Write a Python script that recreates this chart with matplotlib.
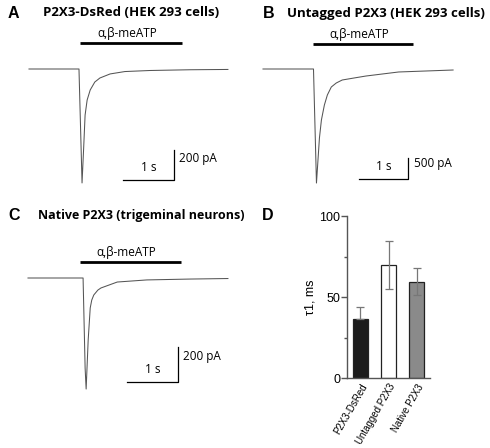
import matplotlib
matplotlib.use("Agg")
import matplotlib.pyplot as plt

# ---------------- data ----------------
# Trace A: P2X3-DsRed (time s, current pA)
tA = [0.00, 0.98, 1.04, 1.07, 1.10, 1.14, 1.20, 1.29, 1.39, 1.59, 1.88, 2.37, 3.16, 3.90]
iA = [0, 0, -760, -540, -307, -207, -140, -87, -60, -33, -17, -10, -5, -3]
# Trace B: untagged P2X3
tB = [0.00, 1.02, 1.08, 1.14, 1.18, 1.24, 1.30, 1.38, 1.48, 1.60, 1.84, 2.08, 2.74, 3.84]
iB = [0, 0, -2714, -1643, -1214, -857, -619, -428, -333, -262, -214, -167, -71, -24]
# Trace C: native P2X3
tC = [0.00, 1.08, 1.12, 1.14, 1.18, 1.22, 1.25, 1.29, 1.37, 1.43, 1.59, 1.75, 2.33, 3.18, 3.92]
iC = [0, 0, -514, -634, -354, -171, -126, -97, -69, -57, -40, -23, -11, -6, -3]

stim_label = "α,β-meATP"
stim_A = (1.0, 3.0)
stim_B = (1.02, 3.04)
stim_C = (1.02, 3.0)

bar_labels = ["P2X3-DsRed", "Untagged P2X3", "Native P2X3"]
tau_means = [36.5, 70, 59.5]
tau_err_lo = [0, 15, 8.5]
tau_err_hi = [7.5, 14.5, 8.5]
bar_colors = ["#1c1c1c", "#ffffff", "#8a8a8a"]

W, H = 490, 448
fig = plt.figure(figsize=(W / 100, H / 100), dpi=100)

TFONT = "Open Sans"
LFONT = "Liberation Sans"
trace_color = "#555555"


def fx(x):
    return x / W


def fy(y):
    return 1 - y / H


def trace_panel(t, i, x_t0, pps, y_base, pa_pp, box, stim, stim_px, sb_t, sb_i, sb_amp, sb_text):
    x0, y0, x1, y1 = box
    ax = fig.add_axes([fx(x0), fy(y1), (x1 - x0) / W, (y1 - y0) / H])
    ax.set_xlim((x0 - x_t0) / pps, (x1 - x_t0) / pps)
    ax.set_ylim(-(y1 - y_base) * pa_pp, -(y0 - y_base) * pa_pp)
    ax.axis("off")
    ax.plot(t, i, color=trace_color, lw=0.75, solid_joinstyle="round")
    stim_level = -(stim_px - y_base) * pa_pp
    ax.plot(stim, [stim_level, stim_level], color="black", lw=2.0, solid_capstyle="butt")
    ax.annotate(stim_label, xy=((stim[0] + stim[1]) / 2, stim_level), xytext=(-3, 2.5),
                textcoords="offset points", ha="center", va="bottom",
                fontsize=8.5, family=TFONT)
    # scale bars
    ax.plot([sb_t - 1, sb_t, sb_t], [sb_i, sb_i, sb_i + sb_amp], color="black", lw=0.9)
    ax.annotate("1 s", xy=(sb_t - 0.5, sb_i), xytext=(0, 4.5), textcoords="offset points",
                ha="center", va="bottom", fontsize=8.5, family=TFONT)
    ax.annotate(sb_text, xy=(sb_t, sb_i + sb_amp * 0.72), xytext=(4, 0), textcoords="offset points",
                ha="left", va="center", fontsize=8.5, family=TFONT)
    return ax


# Panel A
trace_panel(tA, iA, 29, 51, 69, 6.67, (25, 25, 235, 195), stim_A, 43,
            2.84, -740, 200, "200 pA")
# Panel B
trace_panel(tB, iB, 263, 49.5, 69, 23.8, (258, 25, 468, 195), stim_B, 44,
            2.93, -2620, 500, "500 pA")
# Panel C
trace_panel(tC, iC, 28, 51, 278, 5.71, (24, 235, 234, 400), stim_C, 262,
            2.94, -594, 200, "200 pA")

# Titles
fig.text(fx(8), fy(13), "A", fontsize=11.5, fontweight="bold", family=LFONT, va="center")
fig.text(fx(43), fy(13), "P2X3-DsRed (HEK 293 cells)", fontsize=9.5, fontweight="bold",
         family=TFONT, va="center")
fig.text(fx(263), fy(13), "B", fontsize=11.5, fontweight="bold", family=LFONT, va="center")
fig.text(fx(287), fy(13), "Untagged P2X3 (HEK 293 cells)", fontsize=9.5, fontweight="bold",
         family=TFONT, va="center")
fig.text(fx(8), fy(215), "C", fontsize=11.5, fontweight="bold", family=LFONT, va="center")
fig.text(fx(38), fy(215), "Native P2X3 (trigeminal neurons)", fontsize=9.0, fontweight="bold",
         family=TFONT, va="center")
fig.text(fx(262), fy(215), "D", fontsize=11.5, fontweight="bold", family=LFONT, va="center")

# Panel D bar chart
axD = fig.add_axes([fx(347), fy(378), (430 - 347) / W, (378 - 216) / H])
xs = list(range(len(bar_labels)))
axD.bar(xs, tau_means, width=0.53, color=bar_colors, edgecolor="#222222", linewidth=0.9, zorder=2)
axD.errorbar(xs, tau_means, yerr=[tau_err_lo, tau_err_hi], fmt="none", ecolor="#777777",
             elinewidth=0.9, capsize=3, capthick=0.9, zorder=3)
axD.set_xlim(-0.48, 2.48)
axD.set_ylim(0, 100)
axD.spines["top"].set_visible(False)
axD.spines["right"].set_visible(False)
for s in ("left", "bottom"):
    axD.spines[s].set_color("#555555")
    axD.spines[s].set_linewidth(1.0)
axD.set_yticks([0, 50, 100])
axD.set_yticks([25, 75], minor=True)
axD.tick_params(axis="y", which="major", length=4, width=1.0, color="#555555",
                labelsize=9, pad=1)
axD.tick_params(axis="y", which="minor", length=2, width=1.0, color="#555555")
axD.set_xticks(xs)
axD.set_xticklabels(bar_labels, rotation=60, ha="right", rotation_mode="anchor",
                    fontsize=7, family=LFONT)
axD.tick_params(axis="x", length=0, pad=3)
for lab in axD.get_yticklabels():
    lab.set_family(LFONT)
axD.set_ylabel("τ1, ms", fontsize=9, family=LFONT, labelpad=2)

fig.savefig("out.png", dpi=100)
